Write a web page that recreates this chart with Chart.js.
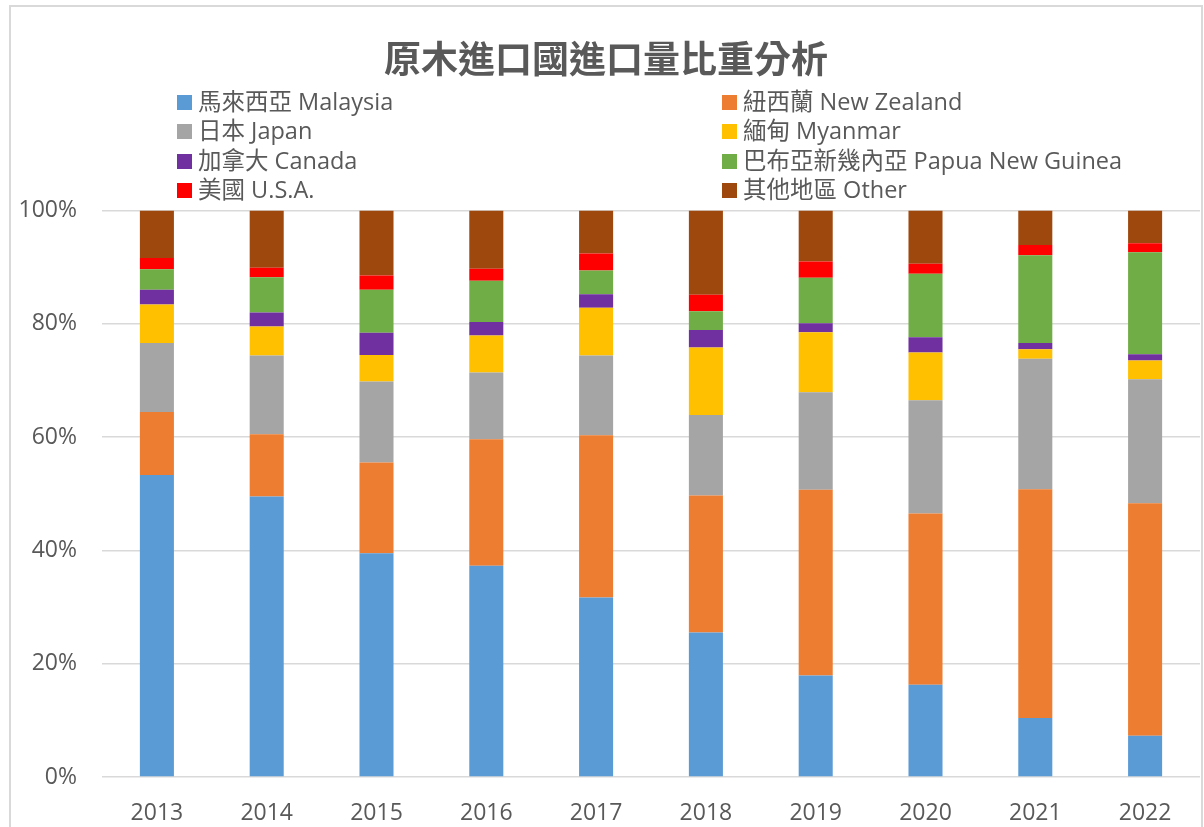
<!DOCTYPE html>
<html>
<head>
<meta charset="utf-8">
<script src="https://cdn.jsdelivr.net/npm/chart.js@4"></script>
<style>
    body { margin: 0; background: #fff; font-family: 'Open Sans', 'Noto Sans CJK TC', sans-serif; }
    #wrap { position: relative; width: 1204px; height: 827px; overflow: hidden; }
    #frame { position: absolute; left: 9px; top: 5px; width: 1190px; height: 840px; border: 2px solid #d9d9d9; }
    #priceChart { position: absolute; left: 0; top: 0; }
    .legend-item { position: absolute; height: 29px; line-height: 29px; font-size: 23.5px; color: #595959; white-space: nowrap; }
    .legend-color-box { position: absolute; left: 0; top: 7px; width: 15px; height: 15px; }
    .legend-text { position: absolute; left: 21px; top: -1px; }
</style>
</head>
<body>
<div id="wrap">
    <div id="frame"></div>
    <canvas id="priceChart" width="1204" height="827"></canvas>
    <div id="custom-legend-container"></div>
</div>
<script>
const years = ['2013', '2014', '2015', '2016', '2017', '2018', '2019', '2020', '2021', '2022'];

// share of import volume per country, percent
const malaysia  = [53.3, 49.5, 39.5, 37.3, 31.7, 25.5, 17.9, 16.3, 10.4, 7.3];
const newZealand = [11.1, 11.0, 16.0, 22.3, 28.6, 24.2, 32.8, 30.2, 40.4, 41.0];
const japan     = [12.2, 13.9, 14.3, 11.8, 14.1, 14.2, 17.2, 20.0, 23.0, 21.9];
const myanmar   = [6.8, 5.1, 4.7, 6.5, 8.4, 11.9, 10.6, 8.4, 1.7, 3.3];
const canada    = [2.6, 2.5, 3.9, 2.4, 2.4, 3.1, 1.6, 2.7, 1.1, 1.1];
const papua     = [3.6, 6.2, 7.6, 7.3, 4.2, 3.3, 8.0, 11.2, 15.5, 18.0];
const usa       = [2.0, 1.7, 2.5, 2.1, 3.0, 2.9, 2.9, 1.8, 1.8, 1.6];
const other     = [8.4, 10.1, 11.5, 10.3, 7.6, 14.9, 9.0, 9.4, 6.1, 5.8];

const seriesNames = ['馬來西亞 Malaysia', '紐西蘭 New Zealand', '日本 Japan', '緬甸 Myanmar',
    '加拿大 Canada', '巴布亞新幾內亞 Papua New Guinea', '美國 U.S.A.', '其他地區 Other'];
const seriesData = [malaysia, newZealand, japan, myanmar, canada, papua, usa, other];
const SERIES_COLORS = ['#5b9bd5', '#ed7d31', '#a5a5a5', '#ffc000', '#7030a0', '#70ad47', '#ff0000', '#9e480e'];

const FONT = "'Open Sans', 'Noto Sans CJK TC', sans-serif";
const TITLE_FONT = "'Noto Sans CJK TC', sans-serif";
const TEXT_COLOR = '#595959';

const renderCustomLegend = (chart, containerId) => {
    const legendContainer = document.getElementById(containerId);
    legendContainer.innerHTML = '';
    chart.data.datasets.forEach((dataset, index) => {
        const col = index % 2;
        const row = Math.floor(index / 2);
        const legendItem = document.createElement('div');
        legendItem.className = 'legend-item';
        legendItem.style.left = (col === 0 ? 177 : 722) + 'px';
        legendItem.style.top = (88 + row * 29.3) + 'px';
        legendItem.innerHTML = `<span class="legend-color-box" style="background-color:${dataset.backgroundColor}"></span>
                                <span class="legend-text">${dataset.label}</span>`;
        legendContainer.appendChild(legendItem);
    });
};

document.addEventListener('DOMContentLoaded', () => {
    const ctx = document.getElementById('priceChart').getContext('2d');

    const datasets = seriesNames.map((name, i) => ({
        label: name,
        data: seriesData[i],
        backgroundColor: SERIES_COLORS[i],
        borderWidth: 0,
        barPercentage: 0.31,
        categoryPercentage: 1
    }));

    const chart = new Chart(ctx, {
        type: 'bar',
        data: { labels: years, datasets },
        options: {
            responsive: false,
            animation: false,
            layout: { padding: { left: 12, right: 4, top: 0, bottom: 0 } },
            scales: {
                x: {
                    stacked: true,
                    grid: { display: false },
                    border: { display: false },
                    ticks: { color: TEXT_COLOR, font: { family: FONT, size: 23 }, padding: 15 },
                    afterFit: (scale) => { scale.height = 50; }
                },
                y: {
                    stacked: true,
                    min: 0,
                    max: 100,
                    ticks: {
                        stepSize: 20,
                        color: TEXT_COLOR,
                        font: { family: FONT, size: 23 },
                        padding: 25,
                        callback: (v) => v + '%'
                    },
                    grid: { color: '#d9d9d9', lineWidth: 1.5, drawTicks: false },
                    border: { display: false },
                    afterFit: (scale) => { scale.width = 90; }
                }
            },
            plugins: {
                legend: { display: false },
                tooltip: { enabled: false },
                title: {
                    display: true,
                    text: '原木進口國進口量比重分析',
                    color: TEXT_COLOR,
                    font: { family: TITLE_FONT, size: 37, weight: 'bold', lineHeight: 1.2 },
                    padding: { top: 37, bottom: 129 }
                }
            }
        }
    });

    renderCustomLegend(chart, 'custom-legend-container');
});
</script>
</body>
</html>
